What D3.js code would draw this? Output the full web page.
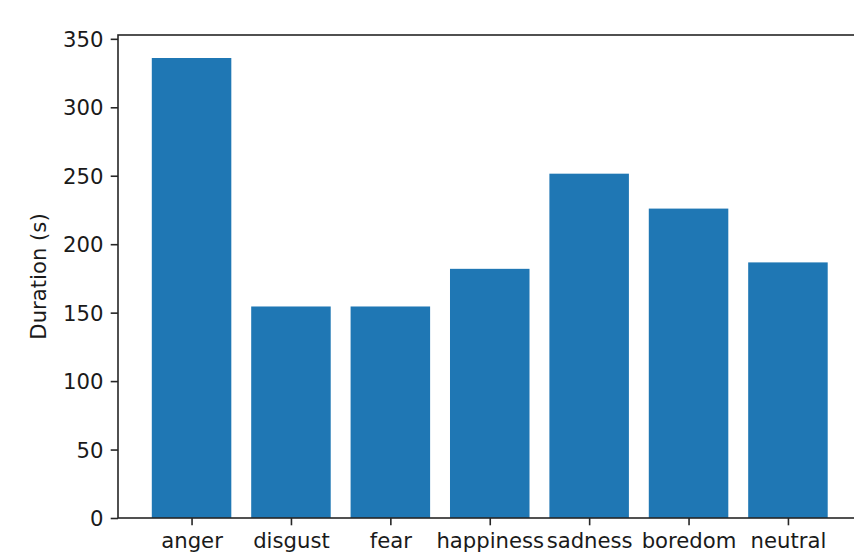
<!DOCTYPE html>
<html>
<head>
<meta charset="utf-8">
<script src="https://cdn.jsdelivr.net/npm/d3@7/dist/d3.min.js"></script>
<style>
  html, body { margin: 0; padding: 0; background: #fff; }
  svg { display: block; }
  text { font-family: "DejaVu Sans", sans-serif; fill: #1a1a1a; }
</style>
</head>
<body>
<script>
// Emotion categories and their total durations in seconds
const categories = ["anger", "disgust", "fear", "happiness", "sadness", "boredom", "neutral"];
const durations = [336, 154.5, 154.5, 182, 251.5, 226, 186.7];
const yTicks = [0, 50, 100, 150, 200, 250, 300, 350];
const yLabel = "Duration (s)";

const W = 854, H = 557;
const plot = { left: 118, right: 861.5, top: 35, bottom: 518 };
const fontSize = 21.2;
const tickLen = 7.3, tickPad = 7.3;
const barColor = "#1f77b4";
const axisColor = "#262626";

const svg = d3.select("body").append("svg")
  .attr("width", W).attr("height", H);

// x: category index with bar-chart margins; y: duration with 5% headroom
const n = categories.length;
const barWidth = 0.8;
const xPad = 0.05 * ((n - 1) + barWidth);
const x = d3.scaleLinear()
  .domain([-barWidth / 2 - xPad, (n - 1) + barWidth / 2 + xPad])
  .range([plot.left, plot.right]);
const y = d3.scaleLinear()
  .domain([0, d3.max(durations) * 1.05])
  .range([plot.bottom, plot.top]);

// Bars
svg.append("g").selectAll("rect")
  .data(durations)
  .join("rect")
  .attr("x", (d, i) => x(i - barWidth / 2))
  .attr("width", (d, i) => x(i + barWidth / 2) - x(i - barWidth / 2))
  .attr("y", d => y(d))
  .attr("height", d => y(0) - y(d))
  .attr("fill", barColor);

// Left axis
const yAxis = d3.axisLeft(y)
  .tickValues(yTicks)
  .tickFormat(d3.format("d"))
  .tickSize(tickLen)
  .tickPadding(tickPad);
const gy = svg.append("g")
  .attr("transform", `translate(${plot.left},0)`)
  .call(yAxis);
gy.select(".domain").remove();
gy.selectAll(".tick line").attr("stroke", axisColor).attr("stroke-width", 1.6);
gy.selectAll(".tick text")
  .attr("font-size", fontSize)
  .attr("dy", "0.36em")
  .style("fill", "#1a1a1a");

// Bottom axis
const xAxis = d3.axisBottom(x)
  .tickValues(d3.range(n))
  .tickFormat(i => categories[i])
  .tickSize(tickLen)
  .tickPadding(tickPad);
const gx = svg.append("g")
  .attr("transform", `translate(0,${plot.bottom})`)
  .call(xAxis);
gx.select(".domain").remove();
gx.selectAll(".tick line").attr("stroke", axisColor).attr("stroke-width", 1.6);
gx.selectAll(".tick text")
  .attr("font-size", fontSize)
  .attr("dy", "0.74em")
  .style("fill", "#1a1a1a");

// Frame (spines)
svg.append("rect")
  .attr("x", plot.left).attr("y", plot.top)
  .attr("width", plot.right - plot.left)
  .attr("height", plot.bottom - plot.top)
  .attr("fill", "none")
  .attr("stroke", axisColor)
  .attr("stroke-width", 1.6);

// Y axis title
svg.append("text")
  .attr("transform", `translate(46,${(plot.top + plot.bottom) / 2}) rotate(-90)`)
  .attr("text-anchor", "middle")
  .attr("font-size", fontSize)
  .text(yLabel);
</script>
</body>
</html>
